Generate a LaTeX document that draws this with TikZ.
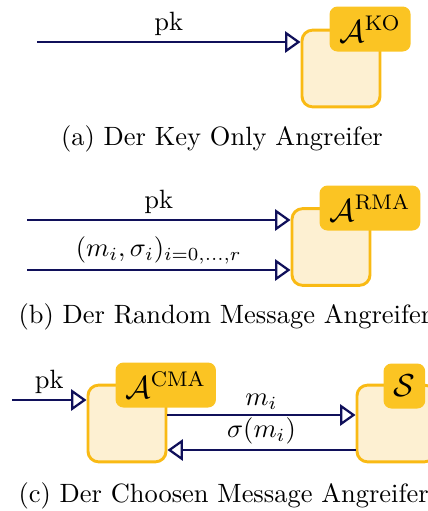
\documentclass[tikz,border=0pt]{standalone}
\usetikzlibrary{arrows.meta}
\definecolor{navy}{HTML}{10105A}
\definecolor{ydark}{HTML}{FBC423}
\definecolor{yborder}{HTML}{F9BA14}
\definecolor{ylight}{HTML}{FDF0D2}
\begin{document}
\begin{tikzpicture}[x=0.378pt,y=-0.378pt,
  party/.style={draw=yborder,line width=1.1pt,fill=ylight,rounded corners=4pt,minimum width=29.5pt,minimum height=29pt,inner sep=0pt},
  tag/.style={fill=ydark,rounded corners=3pt,minimum height=17pt,inner xsep=3.8pt,inner ysep=0pt,anchor=north west,font=\large},
  msg/.style={draw=navy,line width=0.85pt,-{Triangle[open,length=5.8pt,width=8pt]}},
  lbl/.style={above,inner sep=1.8pt,text=black},
  captext/.style={anchor=base west,inner sep=0pt}]
\useasboundingbox (0,0) rectangle (427,511);
% (a)
\node[party] (la) at (341,68.5) {};
\node[tag] (ta) at (329,6) {$\mathcal{A}^{\mathrm{KO}}$};
\coordinate (a0) at (37,42);
\draw[msg] (a0) -- node[lbl] {pk} (a0 -| la.west);
\node[anchor=base,inner sep=0pt] (capa) at (222,145) {(a) Der Key Only Angreifer};
% (b)
\node[party] (lb) at (331,247) {};
\node[tag] (tb) at (319,185) {$\mathcal{A}^{\mathrm{RMA}}$};
\coordinate (b0) at (27,220);
\coordinate (b1) at (27,270);
\draw[msg] (b0) -- node[lbl] {pk} (b0 -| lb.west);
\draw[msg] (b1) -- node[lbl] {$(m_i,\sigma_i)_{i=0,\dots,r}$} (b1 -| lb.west);
\node[captext] (capb) at (18,323) {(b) Der Random Message Angreifer};
% (c)
\node[party] (lc) at (127,423.5) {};
\node[tag] (tc) at (115,362) {$\mathcal{A}^{\mathrm{CMA}}$};
\node[party] (ls) at (396,423.5) {};
\node[tag] (ts) at (383,363) {$\mathcal{S}$};
\coordinate (c0) at (12,400);
\coordinate (c1) at (166,415);
\coordinate (c2) at (357,450);
\draw[msg] (c0) -- node[lbl] {pk} (c0 -| lc.west);
\draw[msg] (c1 -| lc.east) -- node[lbl] {$m_i$} (c1 -| ls.west);
\draw[msg] (c2 -| ls.west) -- node[lbl] {$\sigma(m_i)$} (c2 -| lc.east);
\node[captext] (capc) at (18,502) {(c) Der Choosen Message Angreifer};
\end{tikzpicture}
\end{document}
